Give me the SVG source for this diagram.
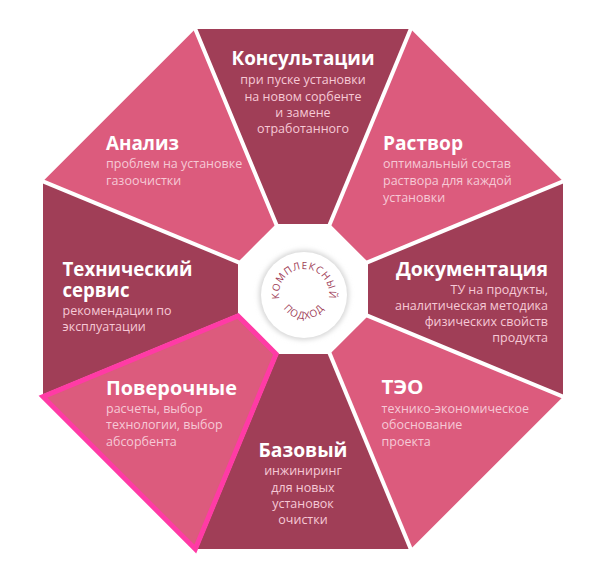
<svg xmlns="http://www.w3.org/2000/svg" width="613" height="562" viewBox="0 0 613 562">
<style>
.dark{fill:#A03E57}
.light{fill:#DC5B7D}
.div{stroke:#fff;stroke-width:4;stroke-linecap:square}
.t{font-family:"Open Sans","Noto Sans",sans-serif;font-weight:700;font-size:20px;fill:#fff}
.s{font-family:"Open Sans","Noto Sans",sans-serif;font-size:12.5px;fill:#F6C9D6}
.c{font-family:"Open Sans","Noto Sans",sans-serif;font-size:10px;fill:#A03E57;letter-spacing:0.9px}
.m{text-anchor:middle}
.e{text-anchor:end}
</style>
<defs>
<filter id="blur" x="-30%" y="-30%" width="160%" height="160%"><feGaussianBlur stdDeviation="2.5"/></filter>
<path id="arcTop" d="M279.97,300.9 A25 25 0 1 1 328.03,300.9"/>
<path id="arcBot" d="M279,294 A25 25 0 0 0 329,294"/>
</defs>
<rect width="613" height="562" fill="#fff"/>
<g id="seg-konsult"><polygon class="dark" points="195.3,29 410.7,29 329.9,224 276.1,224"/>
<text class="t m" x="303" y="65" textLength="143" lengthAdjust="spacingAndGlyphs">Консультации</text>
<text class="s m" x="303" y="84">при пуске установки</text>
<text class="s m" x="303" y="100.5">на новом сорбенте</text>
<text class="s m" x="303" y="117">и замене</text>
<text class="s m" x="303" y="133">отработанного</text></g>
<g id="seg-rastvor"><polygon class="light" points="410.7,29 563,181.3 368,262.1 329.9,224"/>
<text class="t" x="383" y="150" textLength="80" lengthAdjust="spacingAndGlyphs">Раствор</text>
<text class="s" x="383" y="168">оптимальный состав</text>
<text class="s" x="383" y="185">раствора для каждой</text>
<text class="s" x="383" y="202">установки</text></g>
<g id="seg-doc"><polygon class="dark" points="563,181.3 563,396.7 368,315.9 368,262.1"/>
<text class="t" x="396" y="276" textLength="152" lengthAdjust="spacingAndGlyphs">Документация</text>
<text class="s e" x="548" y="294">ТУ на продукты,</text>
<text class="s e" x="548" y="310">аналитическая методика</text>
<text class="s e" x="548" y="326">физических свойств</text>
<text class="s e" x="548" y="342">продукта</text></g>
<g id="seg-teo"><polygon class="light" points="563,396.7 410.7,549 329.9,354 368,315.9"/>
<text class="t" x="381.5" y="394" textLength="42" lengthAdjust="spacingAndGlyphs">ТЭО</text>
<text class="s" x="381.5" y="412.5">технико-экономическое</text>
<text class="s" x="381.5" y="429">обоснование</text>
<text class="s" x="381.5" y="445.5">проекта</text></g>
<g id="seg-bazovy"><polygon class="dark" points="410.7,549 195.3,549 276.1,354 329.9,354"/>
<text class="t m" x="303" y="457" textLength="89" lengthAdjust="spacingAndGlyphs">Базовый</text>
<text class="s m" x="303" y="475">инжиниринг</text>
<text class="s m" x="303" y="491.5">для новых</text>
<text class="s m" x="303" y="507.5">установок</text>
<text class="s m" x="303" y="523.5">очистки</text></g>
<g id="seg-tech"><polygon class="dark" points="43,396.7 43,181.3 238,262.1 238,315.9"/>
<text class="t" x="62.5" y="276" textLength="130" lengthAdjust="spacingAndGlyphs">Технический</text>
<text class="t" x="62.5" y="296.5" textLength="67" lengthAdjust="spacingAndGlyphs">сервис</text>
<text class="s" x="62.5" y="315">рекомендации по</text>
<text class="s" x="62.5" y="331">эксплуатации</text></g>
<g id="seg-analiz"><polygon class="light" points="43,181.3 195.3,29 276.1,224 238,262.1"/>
<text class="t" x="106" y="150" textLength="73" lengthAdjust="spacingAndGlyphs">Анализ</text>
<text class="s" x="106" y="168">проблем на установке</text>
<text class="s" x="106" y="184.5">газоочистки</text></g>
<g id="connectors">
<line class="div" x1="276.1" y1="224" x2="195.3" y2="29"/>
<line class="div" x1="329.9" y1="224" x2="410.7" y2="29"/>
<line class="div" x1="368" y1="262.1" x2="563" y2="181.3"/>
<line class="div" x1="368" y1="315.9" x2="563" y2="396.7"/>
<line class="div" x1="329.9" y1="354" x2="410.7" y2="549"/>
<line class="div" x1="276.1" y1="354" x2="195.3" y2="549"/>
<line class="div" x1="238" y1="315.9" x2="43" y2="396.7"/>
<line class="div" x1="238" y1="262.1" x2="43" y2="181.3"/>
</g>
<g id="seg-poverochnye"><polygon class="light" points="195.3,549 43,396.7 238,315.9 276.1,354" stroke="#FF3BA5" stroke-width="5" stroke-linejoin="miter"/>
<text class="t" x="106" y="395" textLength="131" lengthAdjust="spacingAndGlyphs">Поверочные</text>
<text class="s" x="106" y="412.5">расчеты, выбор</text>
<text class="s" x="106" y="429">технологии, выбор</text>
<text class="s" x="106" y="446">абсорбента</text></g>
<g id="center">
<circle cx="304" cy="295" r="45" fill="#d6d6d6" filter="url(#blur)"/>
<circle cx="304" cy="295" r="43" fill="#fff"/>
<text class="c"><textPath href="#arcTop" startOffset="50%" text-anchor="middle">КОМПЛЕКСНЫЙ</textPath></text>
<text class="c"><textPath href="#arcBot" startOffset="50%" text-anchor="middle">ПОДХОД</textPath></text>
</g>
</svg>
